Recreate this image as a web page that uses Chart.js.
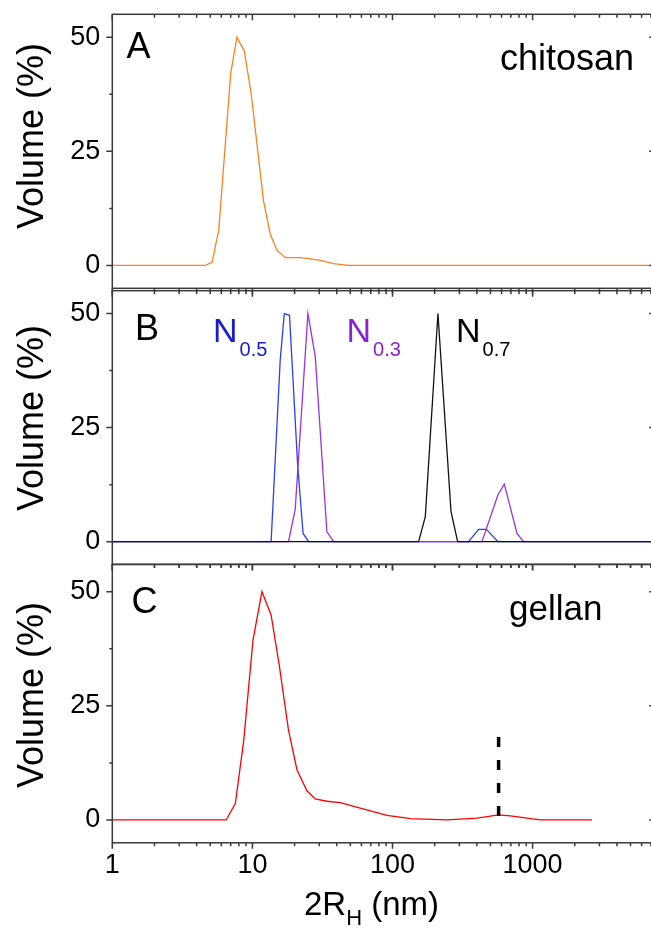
<!DOCTYPE html>
<html>
<head>
<meta charset="utf-8">
<title>DLS size distributions</title>
<script src="https://cdn.jsdelivr.net/npm/chart.js@4.4.1/dist/chart.umd.min.js"></script>
<style>
  html, body { margin: 0; padding: 0; background: #fff; overflow: hidden; }
  #wrap { position: relative; width: 651px; height: 928px; overflow: hidden; }
  #wrap canvas { position: absolute; left: 0; }
</style>
</head>
<body>
<div id="wrap">
  <canvas id="panelA"></canvas>
  <canvas id="panelB"></canvas>
  <canvas id="panelC"></canvas>
</div>
<script>
// hydrodynamic diameter 2R_H (nm) vs volume (%)
const chitosanSize = [1, 4.6, 5.15, 5.75, 7.0, 7.75, 8.75, 9.8, 12.0, 13.4, 15.0, 17.2, 22.0, 25.2, 30.5, 38.0, 48.6, 10000];
const chitosanVolume = [0, 0, 0.7, 7.7, 42, 50, 47, 37.6, 14.2, 6.9, 3.3, 1.7, 1.7, 1.5, 1.1, 0.4, 0, 0];

const n05Size = [1, 13.6, 15.8, 16.9, 18.4, 21.0, 23.0, 25.2, 349, 412, 468, 566, 10000];
const n05Volume = [0, 0, 39.9, 50, 49.6, 17.2, 1.8, 0, 0, 2.7, 2.7, 0, 0];

const n03Size = [1, 18.1, 20.2, 24.9, 28.1, 34.0, 38.0, 435, 566, 628, 774, 863, 10000];
const n03Volume = [0, 0, 7.0, 50, 40.6, 2.2, 0, 0, 10.3, 12.6, 1.8, 0, 0];

const n07Size = [1, 153.6, 171.5, 211, 261.6, 291.7, 10000];
const n07Volume = [0, 0, 5.5, 50, 6.6, 0, 0];

const gellanSize = [1, 6.5, 7.55, 8.65, 10.1, 11.7, 13.6, 15.6, 18.1, 20.8, 24.5, 28.1, 34.0, 42.4, 58.9, 91.4, 134, 245, 401, 572, 693, 1135, 2654];
const gellanVolume = [0, 0, 3.6, 17.1, 39.4, 50, 44.9, 33.6, 19.7, 11.0, 6.4, 4.6, 4.1, 3.8, 2.6, 1.0, 0.3, 0, 0.4, 1.1, 0.9, 0, 0];

// dashed marker in panel C
const gellanMarkSize = [572, 572];
const gellanMarkVolume = [18.2, -1.5];

const volumeTicks = [0, 12.5, 25, 37.5, 50];
const volumeTickLabels = ['0', '', '25', '', '50'];
const sizeDecades = [1, 10, 100, 1000];
const sizeDecadeLabels = ['1', '10', '100', '1000'];

const X_MIN = 1;
const X_MAX = 7500;
const CANVAS_W = 680;
const FONT = "Arial, 'Liberation Sans', sans-serif";
const AXIS_COLOR = '#3a3a3a';

const sizeTicks = [];
sizeDecades.forEach((d) => {
  for (let m = 1; m <= 9; m++) {
    if (d * m <= X_MAX) sizeTicks.push(d * m);
  }
});

function pairs(xs, ys) {
  return xs.map((x, i) => ({ x, y: ys[i] }));
}

function line(label, xs, ys, color, extra) {
  return Object.assign({
    label,
    data: pairs(xs, ys),
    borderColor: color,
    borderWidth: 1.3,
    pointRadius: 0,
    tension: 0,
    fill: false
  }, extra || {});
}

// no label overflow padding, the plot box is placed by layout.padding
function noPadding(axis) {
  axis.paddingTop = 0;
  axis.paddingBottom = 0;
  axis.paddingLeft = 0;
  axis.paddingRight = 0;
}

// draws a row of text runs (used for subscripts)
function drawRuns(ctx, x, y, runs, color) {
  runs.forEach((r) => {
    ctx.font = `${r.size}px ${FONT}`;
    ctx.fillStyle = r.color || color || '#000';
    ctx.fillText(r.t, x, y + (r.dy || 0));
    x += ctx.measureText(r.t).width + (r.gap || 0);
  });
}

const frameTicks = {
  id: 'frameTicks',
  afterDraw(chart, args, opts) {
    const { ctx, chartArea: a, scales: { x, y } } = chart;
    const top = opts.offset || 0;
    ctx.save();
    ctx.strokeStyle = AXIS_COLOR;
    ctx.lineWidth = 1.5;
    ctx.strokeRect(a.left, a.top, a.right - a.left, a.bottom - a.top);

    ctx.beginPath();
    x.ticks.forEach((t) => {
      const px = x.getPixelForValue(t.value);
      const len = sizeDecades.includes(t.value) ? 6 : 3.5;
      ctx.moveTo(px, a.bottom);
      ctx.lineTo(px, a.bottom + len);
      ctx.moveTo(px, a.top);
      ctx.lineTo(px, a.top + len);
    });
    y.ticks.forEach((t) => {
      const py = y.getPixelForValue(t.value);
      const len = t.value % 25 === 0 ? 6 : 3;
      ctx.moveTo(a.left - len, py);
      ctx.lineTo(a.left, py);
      ctx.moveTo(a.right - len, py);
      ctx.lineTo(a.right, py);
    });
    ctx.stroke();

    // y title
    ctx.save();
    ctx.translate(43, opts.yTitleY - top);
    ctx.rotate(-Math.PI / 2);
    ctx.textAlign = 'center';
    ctx.textBaseline = 'alphabetic';
    ctx.font = `36px ${FONT}`;
    ctx.fillStyle = '#000';
    ctx.fillText('Volume (%)', 0, 0);
    ctx.restore();

    ctx.textAlign = 'left';
    ctx.textBaseline = 'alphabetic';
    (opts.texts || []).forEach((item) => {
      drawRuns(ctx, item.x, item.y - top, item.runs, item.color);
    });
    ctx.restore();
  }
};

function makePanel(id, cfg) {
  const canvas = document.getElementById(id);
  canvas.width = CANVAS_W;
  canvas.height = cfg.height;
  canvas.style.width = CANVAS_W + 'px';
  canvas.style.height = cfg.height + 'px';
  canvas.style.top = cfg.offset + 'px';

  const plotRight = 112.3 + 140.1 * Math.log10(X_MAX);

  return new Chart(canvas, {
    type: 'line',
    data: { datasets: cfg.datasets },
    options: {
      responsive: false,
      animation: false,
      devicePixelRatio: 1,
      layout: { padding: { top: cfg.plotTop - cfg.offset, right: CANVAS_W - plotRight, left: 0, bottom: 0 } },
      plugins: {
        legend: { display: false },
        tooltip: { enabled: false },
        frameTicks: { offset: cfg.offset, yTitleY: cfg.yTitleY, texts: cfg.texts }
      },
      scales: {
        x: {
          type: 'logarithmic',
          min: X_MIN,
          max: X_MAX,
          grid: { display: false, drawTicks: false },
          border: { display: false },
          afterBuildTicks: (axis) => { axis.ticks = sizeTicks.map((v) => ({ value: v })); },
          afterFit: (axis) => {
            axis.height = cfg.height - (cfg.plotBottom - cfg.offset);
            noPadding(axis);
          },
          ticks: {
            display: !!cfg.showSizeLabels,
            autoSkip: false,
            maxRotation: 0,
            padding: 7,
            color: '#000',
            font: { family: FONT, size: 27 },
            callback: (v) => {
              const i = sizeDecades.indexOf(v);
              return i >= 0 ? sizeDecadeLabels[i] : '';
            }
          }
        },
        y: {
          min: -5,
          max: cfg.yMax,
          grid: { display: false, drawTicks: false },
          border: { display: false },
          afterBuildTicks: (axis) => { axis.ticks = volumeTicks.map((v) => ({ value: v })); },
          afterFit: (axis) => {
            axis.width = 112.3;
            noPadding(axis);
          },
          ticks: {
            autoSkip: false,
            padding: 12,
            color: '#000',
            font: { family: FONT, size: 27 },
            callback: (v) => volumeTickLabels[volumeTicks.indexOf(v)] || ''
          }
        }
      }
    },
    plugins: [frameTicks]
  });
}

makePanel('panelA', {
  offset: 0, height: 300, plotTop: 14.3, plotBottom: 288.3, yMax: 55, yTitleY: 136,
  datasets: [line('chitosan', chitosanSize, chitosanVolume, '#ff8020')],
  texts: [
    { x: 126.5, y: 58.3, runs: [{ t: 'A', size: 36 }] },
    { x: 500, y: 70, runs: [{ t: 'chitosan', size: 36 }] }
  ]
});

makePanel('panelB', {
  offset: 280, height: 300, plotTop: 290.7, plotBottom: 564.5, yMax: 55, yTitleY: 418,
  datasets: [
    line('N0.7', n07Size, n07Volume, '#111111'),
    line('N0.3', n03Size, n03Volume, '#9b30e6'),
    line('N0.5', n05Size, n05Volume, '#2a3cff')
  ],
  texts: [
    { x: 135, y: 340, runs: [{ t: 'B', size: 36 }] },
    { x: 213, y: 341.7, color: '#1a1ad0', runs: [{ t: 'N', size: 34, gap: 2 }, { t: '0.5', size: 20, dy: 14 }] },
    { x: 346.5, y: 341.7, color: '#8a22d8', runs: [{ t: 'N', size: 34, gap: 2 }, { t: '0.3', size: 20, dy: 14 }] },
    { x: 456, y: 341.7, color: '#000', runs: [{ t: 'N', size: 34, gap: 2 }, { t: '0.7', size: 20, dy: 14 }] }
  ]
});

makePanel('panelC', {
  offset: 555, height: 373, plotTop: 564.3, plotBottom: 842.8, yMax: 56, yTitleY: 695,
  showSizeLabels: true,
  datasets: [
    line('marker', gellanMarkSize, gellanMarkVolume, '#000', { borderWidth: 3.5, borderDash: [10, 13] }),
    line('gellan', gellanSize, gellanVolume, '#ff0000')
  ],
  texts: [
    { x: 131.5, y: 613.3, runs: [{ t: 'C', size: 36 }] },
    { x: 509, y: 620, runs: [{ t: 'gellan', size: 35 }] },
    { x: 304, y: 915, runs: [{ t: '2R', size: 33 }, { t: 'H', size: 22, dy: 10 }, { t: ' (nm)', size: 33 }] }
  ]
});
</script>
</body>
</html>
